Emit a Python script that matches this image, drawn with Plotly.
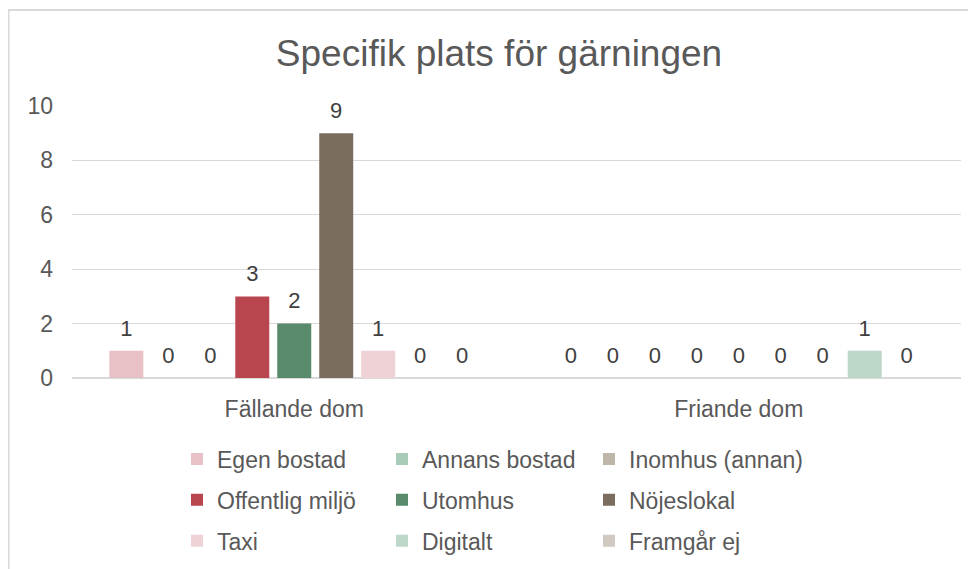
import plotly.graph_objects as go

# data
categories = ["Fällande dom", "Friande dom"]
series_names = [
    "Egen bostad", "Annans bostad", "Inomhus (annan)",
    "Offentlig miljö", "Utomhus", "Nöjeslokal",
    "Taxi", "Digitalt", "Framgår ej",
]
egen_bostad = [1, 0]
annans_bostad = [0, 0]
inomhus_annan = [0, 0]
offentlig_miljo = [3, 0]
utomhus = [2, 0]
nojeslokal = [9, 0]
taxi = [1, 0]
digitalt = [0, 1]
framgar_ej = [0, 0]

series_values = [
    egen_bostad, annans_bostad, inomhus_annan,
    offentlig_miljo, utomhus, nojeslokal,
    taxi, digitalt, framgar_ej,
]
colors = [
    "#E7C1C5", "#A9CCB9", "#BFB6AA",
    "#B9454F", "#598A6B", "#7A6D60",
    "#EED2D5", "#BDD7C8", "#D0C9C2",
]

FONT = "Liberation Sans, Arial, sans-serif"
GREY = "#595959"

# page body has an 8px margin, so the figure is 8px smaller than the window
W, H = 968, 561
L, R, T, B = 64, 15, 98, 191
pw, ph = W - L - R, H - T - B


def px_x(p):
    return (p - L) / pw


def px_y(q):
    return (H - B - q) / ph


legend_ids = ["legend", "legend2", "legend3"]

fig = go.Figure()
for i, (name, vals) in enumerate(zip(series_names, series_values)):
    fig.add_trace(go.Bar(
        x=categories, y=vals, name=name,
        marker=dict(color=colors[i], line=dict(width=0)),
        offsetgroup=str(i), legendgroup=name,
        legend=legend_ids[i % 3],
        hoverinfo="x+y+name",
    ))

# value labels: text scatter grouped like the bars, an invisible marker pads them up
for i, vals in enumerate(series_values):
    fig.add_trace(go.Scatter(
        x=categories, y=vals, mode="markers+text", orientation="v",
        offsetgroup=str(i), text=[str(v) for v in vals],
        textposition="top center",
        textfont=dict(size=22, color="#404040", family=FONT),
        marker=dict(size=14, opacity=0),
        cliponaxis=False, showlegend=False, hoverinfo="skip",
    ))

# three legend columns, one legend group per entry so the row gap can be set
legend_common = dict(
    orientation="v", xanchor="left", yanchor="middle",
    font=dict(size=23, color=GREY, family=FONT),
    itemwidth=30, bgcolor="rgba(0,0,0,0)",
    traceorder="grouped", tracegroupgap=8,
    y=px_y(492),
)
legend_x = [169, 374, 581]

fig.update_layout(
    width=W, height=H,
    margin=dict(l=L, r=R, t=T, b=B, autoexpand=False),
    paper_bgcolor="white", plot_bgcolor="white",
    barmode="group", bargap=0.15, bargroupgap=0.19,
    scattermode="group", scattergap=0.15,
    font=dict(family=FONT, color=GREY),
    title=dict(
        text="Specifik plats för gärningen",
        x=491 / W, xanchor="center", y=1 - 45 / H, yanchor="middle",
        font=dict(size=37, color=GREY, family=FONT),
    ),
    xaxis=dict(
        showgrid=False, showline=True, linecolor="#D9D9D9", linewidth=1,
        tickfont=dict(size=23, color=GREY), ticklabelstandoff=10,
    ),
    yaxis=dict(
        range=[0, 10], dtick=2, showgrid=True, gridcolor="#D9D9D9",
        gridwidth=1, zeroline=True, zerolinecolor="#D9D9D9",
        tickfont=dict(size=23, color=GREY), ticklabelstandoff=18,
        showline=False,
    ),
    legend=dict(legend_common, x=px_x(legend_x[0])),
    legend2=dict(legend_common, x=px_x(legend_x[1])),
    legend3=dict(legend_common, x=px_x(legend_x[2])),
    showlegend=True,
)

# outer chart border (runs off the right and bottom edges)
fig.add_shape(
    type="rect", xref="paper", yref="paper",
    x0=px_x(0.5), x1=px_x(W + 20), y0=px_y(H + 20), y1=px_y(2),
    line=dict(color="#D9D9D9", width=2), fillcolor="rgba(0,0,0,0)",
    layer="below",
)

fig.write_html("out.html")
